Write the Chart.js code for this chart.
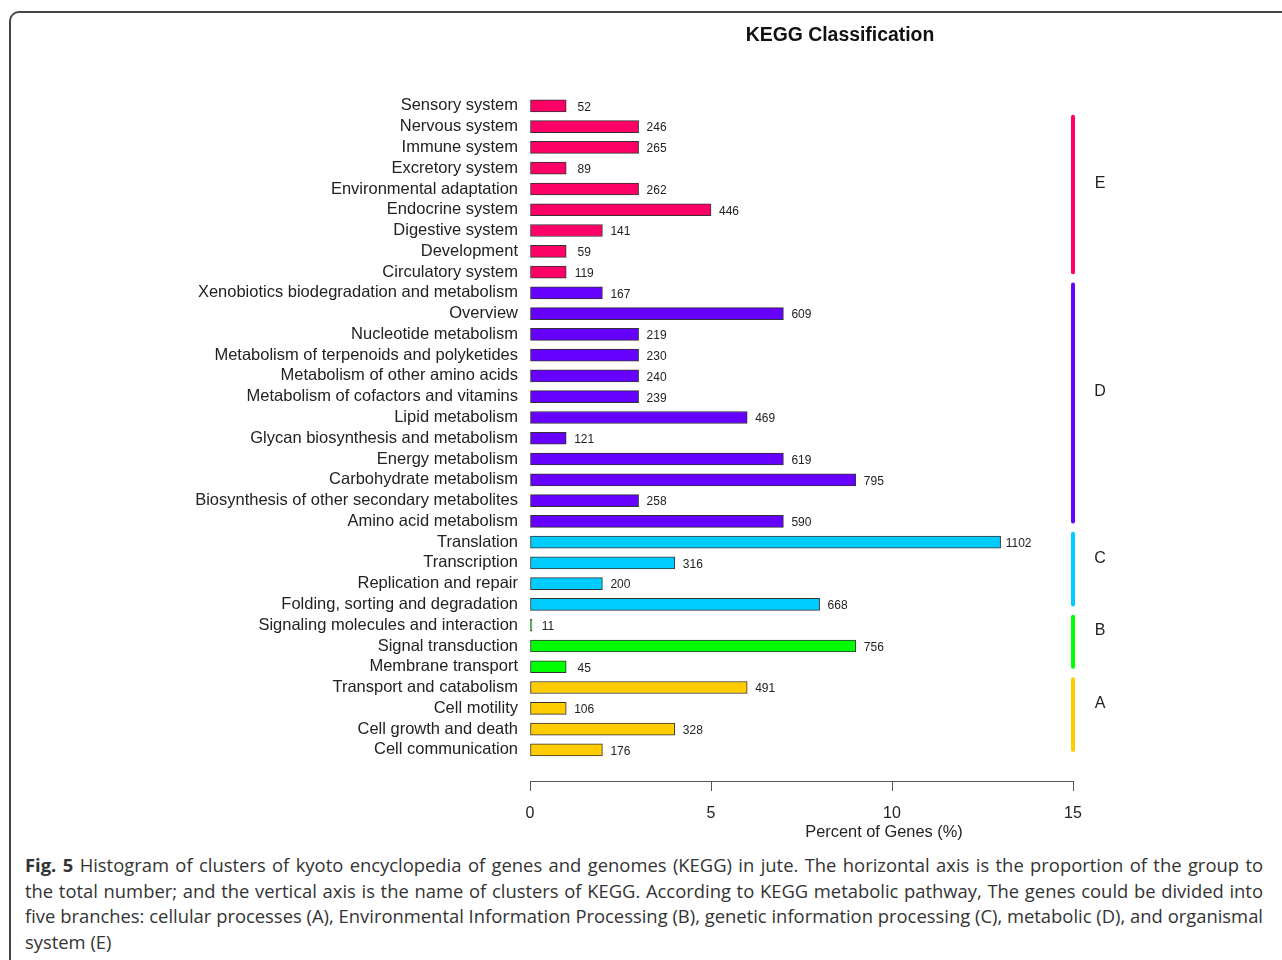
<!DOCTYPE html>
<html>
<head>
<meta charset="utf-8">
<script src="https://cdn.jsdelivr.net/npm/chart.js@4.4.1/dist/chart.umd.min.js"></script>
<style>
  body { margin: 0; background: #fff; width: 1282px; height: 960px; overflow: hidden; position: relative; }
  #frame { position: absolute; left: 9px; top: 11px; width: 1300px; height: 1000px;
           border-top: 2px solid #444; border-left: 2px solid #444; border-top-left-radius: 10px; }
  #chartBox { position: absolute; left: 0; top: 0; width: 1282px; height: 850px; }
  #caption { position: absolute; left: 25px; top: 852px; width: 1238px;
             font-family: 'Open Sans', sans-serif; font-size: 18.4px; line-height: 25.7px;
             color: #333; }
  #caption .full { text-align: justify; text-align-last: justify; white-space: nowrap; }
</style>
</head>
<body>
<div id="frame"></div>
<div id="chartBox"><canvas id="keggChart" width="1282" height="850"></canvas></div>
<div id="caption">
  <div class="full"><b>Fig. 5</b> Histogram of clusters of kyoto encyclopedia of genes and genomes (KEGG) in jute. The horizontal axis is the proportion of the group to</div>
  <div class="full">the total number; and the vertical axis is the name of clusters of KEGG. According to KEGG metabolic pathway, The genes could be divided into</div>
  <div class="full">five branches: cellular processes (A), Environmental Information Processing (B), genetic information processing (C), metabolic (D), and organismal</div>
  <div>system (E)</div>
</div>
<script>
// categories, top to bottom
const categories = [
    'Sensory system', 'Nervous system', 'Immune system', 'Excretory system',
    'Environmental adaptation', 'Endocrine system', 'Digestive system', 'Development',
    'Circulatory system',
    'Xenobiotics biodegradation and metabolism', 'Overview', 'Nucleotide metabolism',
    'Metabolism of terpenoids and polyketides', 'Metabolism of other amino acids',
    'Metabolism of cofactors and vitamins', 'Lipid metabolism', 'Glycan biosynthesis and metabolism',
    'Energy metabolism', 'Carbohydrate metabolism', 'Biosynthesis of other secondary metabolites',
    'Amino acid metabolism',
    'Translation', 'Transcription', 'Replication and repair', 'Folding, sorting and degradation',
    'Signaling molecules and interaction', 'Signal transduction', 'Membrane transport',
    'Transport and catabolism', 'Cell motility', 'Cell growth and death', 'Cell communication'
];
const geneCounts = [52, 246, 265, 89, 262, 446, 141, 59, 119,
    167, 609, 219, 230, 240, 239, 469, 121, 619, 795, 258, 590,
    1102, 316, 200, 668,
    11, 756, 45,
    491, 106, 328, 176];
const percentGenes = [1, 3, 3, 1, 3, 5, 2, 1, 1,
    2, 7, 3, 3, 3, 3, 6, 1, 7, 9, 3, 7,
    13, 4, 2, 8,
    0, 9, 1,
    6, 1, 4, 2];

// branches (index of first and last category)
const groupLabels = ['E', 'D', 'C', 'B', 'A'];
const groupFirst = [0, 9, 21, 25, 28];
const groupLast = [8, 20, 24, 27, 31];
const groupColors = ['#FF0066', '#6600FF', '#00CCFF', '#00FF00', '#FFCC00'];

const xTicks = [0, 5, 10, 15];

const labelFont = '"Liberation Sans", Arial, Helvetica, sans-serif';

const barColors = categories.map((c, i) => {
    const k = groupFirst.findIndex((f, j) => i >= f && i <= groupLast[j]);
    return groupColors[k];
});

// one empty row at the bottom keeps the axis a little below the last bar
const rowLabels = categories.concat(['']);
const rowValues = percentGenes.concat([null]);

const overlay = {
    id: 'overlay',
    afterDatasetsDraw(chart) {
        const { ctx, scales: { x, y } } = chart;
        ctx.save();

        // gene counts next to bars
        ctx.font = '12px ' + labelFont;
        ctx.fillStyle = '#222';
        ctx.textAlign = 'center';
        ctx.textBaseline = 'middle';
        chart.getDatasetMeta(0).data.forEach((bar, i) => {
            if (i >= categories.length) return;
            ctx.fillText(String(geneCounts[i]), x.getPixelForValue(percentGenes[i]) + 18, bar.y + 1.5);
        });

        // branch lines on the right
        const band = y.getPixelForValue(1) - y.getPixelForValue(0);
        const lineX = x.getPixelForValue(15);
        groupLabels.forEach((g, k) => {
            const top = y.getPixelForValue(groupFirst[k]) + (k === 0 ? 0.43 : -0.5) * band;
            const bottom = y.getPixelForValue(groupLast[k]) + 0.1 * band;
            ctx.strokeStyle = groupColors[k];
            ctx.lineWidth = 4;
            ctx.lineCap = 'round';
            ctx.beginPath();
            ctx.moveTo(lineX, top + 2);
            ctx.lineTo(lineX, bottom - 2);
            ctx.stroke();
            ctx.fillStyle = '#222';
            ctx.font = '16px ' + labelFont;
            ctx.fillText(g, lineX + 27, (top + bottom) / 2 - 11);
        });

        // titles
        ctx.fillStyle = '#111';
        ctx.font = 'bold 19.4px ' + labelFont;
        ctx.fillText('KEGG Classification', 840, 36);
        ctx.fillStyle = '#222';
        ctx.font = '16.4px ' + labelFont;
        ctx.fillText('Percent of Genes (%)', 884, 832);
        ctx.restore();
    }
};

new Chart(document.getElementById('keggChart').getContext('2d'), {
    type: 'bar',
    data: {
        labels: rowLabels,
        datasets: [{
            data: rowValues,
            backgroundColor: barColors,
            borderColor: '#333',
            borderWidth: 1,
            borderSkipped: false,
            barThickness: 12,
            minBarLength: 2
        }]
    },
    options: {
        indexAxis: 'y',
        responsive: false,
        animation: false,
        layout: { padding: { top: 95.5, right: 209, bottom: 29, left: 0 } },
        plugins: {
            legend: { display: false },
            tooltip: { enabled: false }
        },
        scales: {
            x: {
                type: 'linear',
                min: 0,
                max: 15,
                afterBuildTicks: (s) => { s.ticks = xTicks.map(v => ({ value: v })); },
                afterFit: (s) => { s.height = 40; },
                grid: { drawOnChartArea: false, tickLength: 10, color: '#555' },
                border: { color: '#555' },
                ticks: { color: '#222', font: { family: labelFont, size: 16 }, padding: 13 }
            },
            y: {
                afterFit: (s) => { s.width = 530; },
                grid: { display: false, drawTicks: false },
                border: { display: false },
                ticks: { autoSkip: false, color: '#222', padding: 12, font: { family: labelFont, size: 16.5 } }
            }
        }
    },
    plugins: [overlay]
});
</script>
</body>
</html>
